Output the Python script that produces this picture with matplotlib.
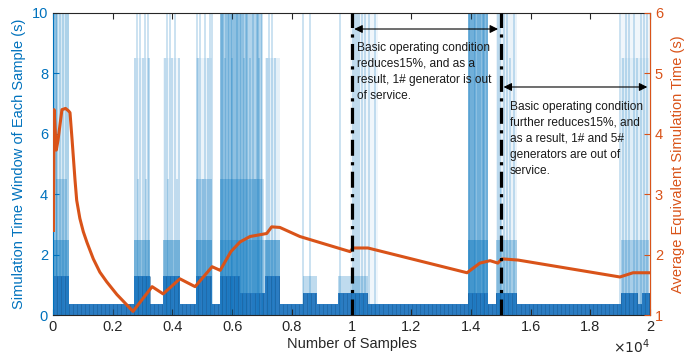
import numpy as np
from matplotlib import pyplot as plt

plt.rcParams['font.family'] = ['Liberation Sans', 'DejaVu Sans']

blue = '#0072BD'
orange = '#D95319'

# base blocks of the per-sample time window (start, end, height)
base_x0 = [0, 520, 2720, 3250, 3700, 4250, 4780, 5330, 5600, 6270, 7100, 7600,
           8370, 8840, 9550, 10550, 13900, 14570, 14840, 15540, 19030, 19600, 19730]
base_x1 = [520, 2720, 3250, 3700, 4250, 4780, 5330, 5600, 6270, 7100, 7600, 8370,
           8840, 9550, 10550, 13900, 14570, 14840, 15540, 19030, 19600, 19730, 20000]
base_h = [1.3, 0.38, 1.3, 0.38, 1.3, 0.38, 1.3, 0.38, 1.3, 0.73, 1.3, 0.38,
          0.73, 0.38, 0.73, 0.38, 0.73, 0.38, 0.73, 0.38, 0.73, 0.38, 0.73]

# bursts of longer windows (start, end, height, opacity)
burst_x0 = [0, 0, 100, 0, 2720, 2720, 3700, 3700, 4780, 4780, 4780, 5600, 5600, 5600,
            7100, 7100, 8370, 9550, 9950, 13900, 13900, 14840, 14840, 19030, 19030, 19030]
burst_x1 = [520, 150, 480, 520, 3250, 3250, 4250, 4250, 5330, 5330, 5330, 7600, 7000, 7000,
            7600, 7600, 8840, 10550, 10900, 14570, 14570, 15540, 15540, 19970, 19970, 19970]
burst_h = [10, 10, 4.5, 2.5, 2.5, 8.5, 2.5, 8.5, 2.5, 4.5, 8.5, 2.5, 10, 4.5,
           8.5, 2.5, 1.3, 1.3, 10, 10, 2.5, 10, 2.5, 10, 8.5, 2.5]
burst_a = [0.15, 0.35, 0.25, 0.4, 0.4, 0.06, 0.4, 0.06, 0.4, 0.25, 0.08, 0.3, 0.3, 0.3,
           0.1, 0.3, 0.25, 0.25, 0.06, 0.45, 0.4, 0.08, 0.3, 0.06, 0.06, 0.25]

# single long samples
spike_x = [130, 220, 320, 420, 500,
           2750, 2800, 2850, 2915, 3000, 3080, 3120, 3180, 3230,
           3750, 3820, 3850, 3920, 4000, 4090, 4150, 4230,
           4820, 4850, 4925, 5025, 5100, 5190, 5250, 5330,
           5620, 5650, 5700, 5750, 5800, 5850, 5900, 5950, 5980, 6000, 6050, 6120, 6150,
           6200, 6260, 6300, 6350, 6400, 6450, 6500, 6600, 6700, 6750, 6830, 6870, 6900,
           7000, 7050, 7170, 7250, 7340, 7450,
           8370, 8610, 9600, 10050, 10120, 10180, 10250, 10350, 10450, 10600, 10800,
           13950, 13970, 14050, 14100, 14150, 14250, 14300, 14400, 14450, 14540,
           14900, 14975, 15000, 15100, 15210, 15300, 15450,
           19000, 19100, 19200, 19300, 19450, 19550, 19700, 19800, 19900]
spike_h = [10, 10, 10, 10, 10,
           8.5, 10, 4.5, 10, 8.5, 10, 4.5, 10, 8.5,
           8.5, 10, 4.5, 10, 8.5, 10, 4.5, 8.5,
           10, 8.5, 10, 4.5, 10, 8.5, 10, 10,
           10, 10, 10, 8.5, 10, 10, 10, 10, 10, 8.5, 10, 10, 10,
           10, 10, 10, 10, 8.5, 10, 10, 8.5, 10, 4.5, 10, 10, 8.5,
           10, 4.5, 8.5, 10, 10, 8.5,
           10, 10, 10, 10, 10, 10, 10, 10, 10, 10, 10,
           10, 10, 10, 10, 10, 10, 10, 10, 10, 10,
           10, 10, 4.5, 10, 10, 8.5, 10,
           10, 8.5, 10, 10, 10, 8.5, 10, 10, 10]

# average equivalent simulation time
avg_x = [15, 35, 110, 170, 300, 420, 520, 570, 640, 737, 794, 900, 1015, 1140, 1350, 1570,
         1800, 2140, 2450, 2680, 3320, 3690, 4250, 4760, 5330, 5600, 5960, 6265, 6600, 7160,
         7325, 7600, 8270, 8940, 9950, 10050, 10550, 13870, 14300, 14640, 14900, 15040,
         15580, 18990, 19430, 20000]
avg_y = [2.4, 4.4, 3.73, 3.9, 4.4, 4.42, 4.38, 4.35, 3.9, 3.24, 2.9, 2.6, 2.38, 2.2, 1.93, 1.71,
         1.55, 1.34, 1.18, 1.06, 1.47, 1.35, 1.6, 1.47, 1.8, 1.74, 2.05, 2.21, 2.3, 2.35,
         2.46, 2.45, 2.3, 2.2, 2.05, 2.11, 2.11, 1.7, 1.86, 1.9, 1.86, 1.93,
         1.91, 1.63, 1.7, 1.7]

fig = plt.figure(figsize=(6.99, 3.58), dpi=100)
ax = fig.add_axes([0.0758, 0.120, 0.8542, 0.8437])

for x0, x1, h, a in zip(burst_x0, burst_x1, burst_h, burst_a):
    ax.bar(x0, h, width=x1 - x0, align='edge', color=blue, alpha=a, lw=0)
ax.vlines(spike_x, 0, spike_h, color=blue, alpha=0.22, lw=1.3)
ax.bar(base_x0, base_h, width=np.subtract(base_x1, base_x0), align='edge',
       color='#2b7cc2', lw=0)

# thin edges between the sample bars
edges = np.arange(0, 20000, 135)
idx = np.searchsorted(base_x0, edges, side='right') - 1
ax.vlines(edges, 0, np.array(base_h)[idx], color='#1a5f99', lw=0.5, alpha=0.8)

ax.set_xlim(0, 20000)
ax.set_ylim(0, 10)
ax.set_xticks(np.arange(0, 20001, 2000))
ax.set_xticklabels(['0', '0.2', '0.4', '0.6', '0.8', '1', '1.2', '1.4', '1.6', '1.8', '2'])
ax.set_yticks([0, 2, 4, 6, 8, 10])
ax.tick_params(axis='x', direction='in', top=True, labelsize=10.5, colors='#262626', length=4)
ax.tick_params(axis='y', direction='in', labelsize=10.5, colors=blue, length=4)
ax.set_xlabel('Number of Samples', fontsize=10.5, color='#262626', labelpad=2)
ax.set_ylabel('Simulation Time Window of Each Sample (s)', fontsize=10.5, color=blue, labelpad=4)
ax.spines['left'].set_color(blue)
ax.spines['bottom'].set_color('#262626')
ax.spines['top'].set_color('#262626')
ax.text(1.0, -0.105, r'$\times10^{4}$', transform=ax.transAxes, ha='right', va='center',
        fontsize=10, color='#262626')

ax2 = ax.twinx()
ax2.plot(avg_x, avg_y, color=orange, lw=2.2)
ax2.set_ylim(1, 6)
ax2.set_yticks([1, 2, 3, 4, 5, 6])
ax2.tick_params(axis='y', direction='in', labelsize=10.5, colors=orange, length=4)
ax2.set_ylabel('Average Equivalent Simulation Time (s)', fontsize=10.5, color=orange, labelpad=6)
ax2.spines['right'].set_color(orange)
ax2.spines['left'].set_visible(False)
ax2.spines['top'].set_visible(False)
ax2.spines['bottom'].set_visible(False)

# operating condition changes
for xv in [10000, 15000]:
    ax2.axvline(xv, color='black', lw=2.3, ls=(0, (5, 2, 1, 2)))

ax.annotate('', xy=(10000, 9.47), xytext=(15000, 9.47),
            arrowprops=dict(arrowstyle='<|-|>', color='black', lw=0.8, mutation_scale=12))
ax.annotate('', xy=(15000, 7.55), xytext=(20000, 7.55),
            arrowprops=dict(arrowstyle='<|-|>', color='black', lw=0.8, mutation_scale=12))
ax.text(10180, 9.05, 'Basic operating condition\nreduces15%, and as a\n'
        'result, 1# generator is out\nof service.',
        fontsize=8.6, va='top', ha='left', linespacing=1.45, color='#1a1a1a')
ax.text(15310, 7.1, 'Basic operating condition\nfurther reduces15%, and\n'
        'as a result, 1# and 5#\ngenerators are out of\nservice.',
        fontsize=8.6, va='top', ha='left', linespacing=1.45, color='#1a1a1a')

fig.savefig('out.png', dpi=100)
